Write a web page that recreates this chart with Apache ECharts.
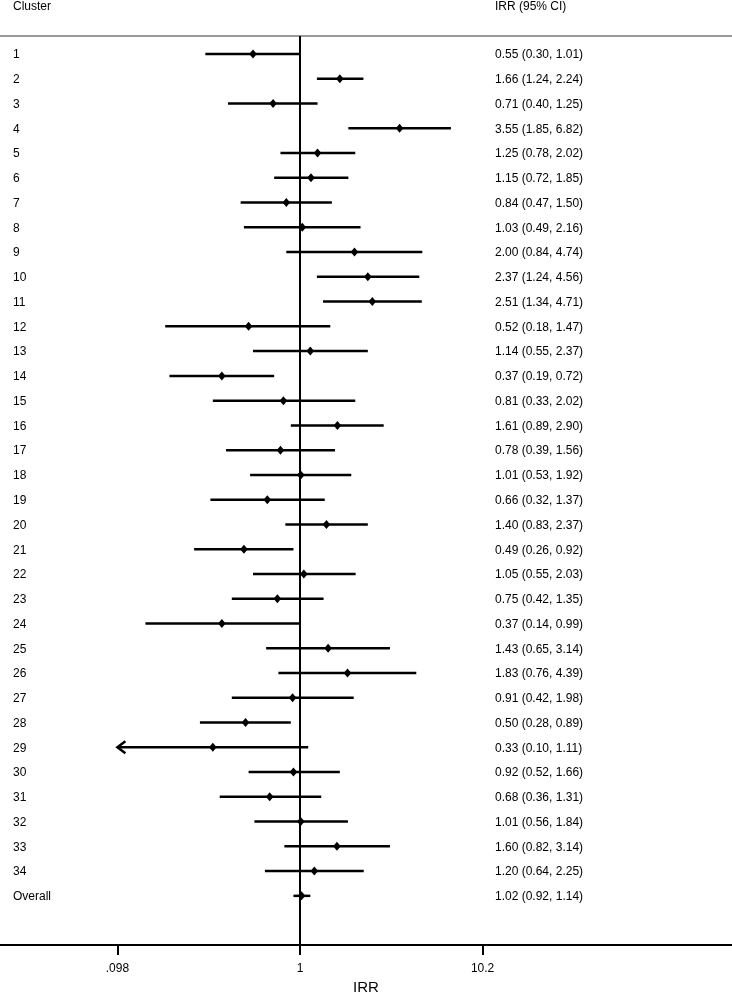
<!DOCTYPE html>
<html>
<head>
<meta charset="utf-8">
<script src="https://cdn.jsdelivr.net/npm/echarts@6/dist/echarts.min.js"></script>
<style>
  html, body { margin: 0; padding: 0; background: #fff; }
  #chart { width: 732px; height: 992px; }
</style>
</head>
<body>
<div id="chart"></div>
<script>
// forest plot data
const clusters = ['1', '2', '3', '4', '5', '6', '7', '8', '9', '10',
  '11', '12', '13', '14', '15', '16', '17', '18', '19', '20',
  '21', '22', '23', '24', '25', '26', '27', '28', '29', '30',
  '31', '32', '33', '34', 'Overall']
const irr = [0.55, 1.66, 0.71, 3.55, 1.25, 1.15, 0.84, 1.03, 2.00, 2.37,
  2.51, 0.52, 1.14, 0.37, 0.81, 1.61, 0.78, 1.01, 0.66, 1.40,
  0.49, 1.05, 0.75, 0.37, 1.43, 1.83, 0.91, 0.50, 0.33, 0.92,
  0.68, 1.01, 1.60, 1.20, 1.02]
// row 29 lower bound sits just under the plotted range (shown as 0.10, drawn with an arrow)
const lower = [0.30, 1.24, 0.40, 1.85, 0.78, 0.72, 0.47, 0.49, 0.84, 1.24,
  1.34, 0.18, 0.55, 0.19, 0.33, 0.89, 0.39, 0.53, 0.32, 0.83,
  0.26, 0.55, 0.42, 0.14, 0.65, 0.76, 0.42, 0.28, 0.096, 0.52,
  0.36, 0.56, 0.82, 0.64, 0.92]
const upper = [1.01, 2.24, 1.25, 6.82, 2.02, 1.85, 1.50, 2.16, 4.74, 4.56,
  4.71, 1.47, 2.37, 0.72, 2.02, 2.90, 1.56, 1.92, 1.37, 2.37,
  0.92, 2.03, 1.35, 0.99, 3.14, 4.39, 1.98, 0.89, 1.11, 1.66,
  1.31, 1.84, 3.14, 2.25, 1.14]
const xTicks = [0.098, 1, 10.2]
const clipRange = [0.098, 10.2]

const FONT = "'Liberation Sans', Arial, Helvetica, sans-serif"

function fmt(v) {
  return v.toFixed(2)
}

function tickLabel(v) {
  return String(+Number(v).toPrecision(3)).replace(/^0\./, '.')
}

const rows = irr.map((v, i) => [v, i + 1, lower[i], upper[i]])

function renderRow(params, api) {
  const est = api.value(0)
  const row = api.value(1)
  const lo = api.value(2)
  const hi = api.value(3)
  const c = api.coord([est, row])
  const pLo = api.coord([Math.max(lo, clipRange[0]), row])
  const pHi = api.coord([Math.min(hi, clipRange[1]), row])
  const y = c[1]
  const lineStyle = { stroke: '#000', lineWidth: 2.5 }
  const children = [{
    type: 'line',
    shape: { x1: pLo[0], y1: y, x2: pHi[0], y2: y },
    style: lineStyle
  }]
  if (lo < clipRange[0]) {
    children.push({
      type: 'polyline',
      shape: { points: [[pLo[0] + 8, y - 6], [pLo[0], y], [pLo[0] + 8, y + 6]] },
      style: { stroke: '#000', lineWidth: 2.5, fill: null }
    })
  }
  if (hi > clipRange[1]) {
    children.push({
      type: 'polyline',
      shape: { points: [[pHi[0] - 8, y - 6], [pHi[0], y], [pHi[0] - 8, y + 6]] },
      style: { stroke: '#000', lineWidth: 2.5, fill: null }
    })
  }
  children.push({
    type: 'polygon',
    shape: { points: [[c[0], y - 4.5], [c[0] + 3.8, y], [c[0], y + 4.5], [c[0] - 3.8, y]] },
    style: { fill: '#000' }
  })
  const idx = params.dataIndex
  children.push({
    type: 'text',
    style: {
      text: clusters[idx], x: 13, y: y + 1,
      font: '12px ' + FONT, fill: '#000', align: 'left', verticalAlign: 'middle'
    }
  })
  children.push({
    type: 'text',
    style: {
      text: fmt(irr[idx]) + ' (' + fmt(lower[idx]) + ', ' + fmt(upper[idx]) + ')',
      x: 495, y: y + 1,
      font: '12px ' + FONT, fill: '#000', align: 'left', verticalAlign: 'middle'
    }
  })
  return { type: 'group', children: children }
}

const chart = echarts.init(document.getElementById('chart'))
chart.setOption({
  animation: false,
  textStyle: { fontFamily: FONT },
  grid: { left: 0, right: 0, top: 36, bottom: 47, containLabel: false, outerBoundsMode: 'none' },
  xAxis: [{
    type: 'log',
    min: 0.02201,
    max: 243.6,
    position: 'bottom',
    name: 'IRR',
    nameLocation: 'middle',
    nameGap: 31,
    nameTextStyle: { fontSize: 15, color: '#000', fontFamily: FONT },
    axisLine: { show: true, lineStyle: { color: '#000', width: 2 } },
    axisTick: { show: true, customValues: xTicks, length: 10, lineStyle: { color: '#000', width: 2 } },
    axisLabel: {
      show: true, customValues: xTicks, margin: 18, fontSize: 12, color: '#000',
      fontFamily: FONT, formatter: tickLabel
    },
    splitLine: { show: false },
    minorTick: { show: false }
  }, {
    type: 'log',
    min: 0.02201,
    max: 243.6,
    position: 'top',
    axisLine: { show: true, lineStyle: { color: '#999', width: 2 } },
    axisTick: { show: false },
    axisLabel: { show: false },
    splitLine: { show: false }
  }],
  yAxis: {
    type: 'value',
    inverse: true,
    min: 0.273,
    max: 36.985,
    show: false
  },
  graphic: [{
    type: 'text',
    left: 13, top: 1,
    style: { text: 'Cluster', font: '12px ' + FONT, fill: '#000' }
  }, {
    type: 'text',
    left: 495, top: 1,
    style: { text: 'IRR (95% CI)', font: '12px ' + FONT, fill: '#000' }
  }],
  series: [{
    type: 'custom',
    xAxisIndex: 0,
    renderItem: renderRow,
    encode: { x: [0, 2, 3], y: 1 },
    clip: false,
    data: rows,
    markLine: {
      silent: true,
      symbol: 'none',
      label: { show: false },
      lineStyle: { color: '#000', width: 2, type: 'solid' },
      data: [{ xAxis: 1 }]
    }
  }]
})
</script>
</body>
</html>
